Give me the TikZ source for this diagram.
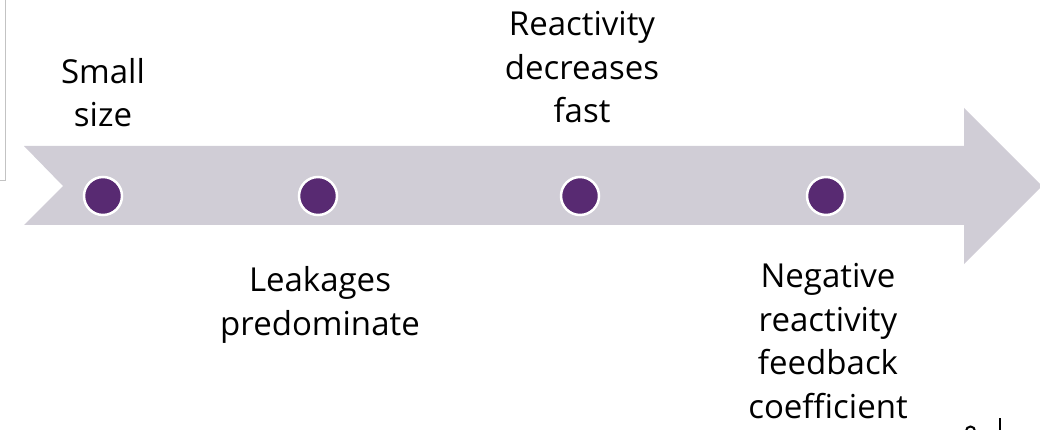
\documentclass[tikz,border=0pt]{standalone}
\usepackage{fontspec}
\setmainfont{Open Sans}
\definecolor{bandgray}{RGB}{208,205,214}
\definecolor{dotpurple}{RGB}{88,42,114}
\definecolor{framegray}{RGB}{195,195,195}

\begin{document}
\begin{tikzpicture}[x=1pt,y=-1pt,
	stagedot/.style={circle, fill=dotpurple, draw=white, line width=2.5pt, minimum size=38pt, inner sep=0pt},
	stagelabel/.style={align=center, inner sep=0pt, anchor=base, font=\fontsize{33}{43.5}\selectfont}]
	\useasboundingbox (0,0) rectangle (1040,430);
	\clip (0,0) rectangle (1040,430);
	% frame corner
	\draw[framegray, line width=0.8pt] (0,180) -- (5.5,180) -- (5.5,0);
	% timeline arrow
	\fill[bandgray] (24,146) -- (964,146) -- (964,108) -- (1042,186)
		-- (964,264) -- (964,225) -- (24,225) -- (63,186) -- cycle;
	% stages
	\node[stagedot] (dot1) at (103,196) {};
	\node[stagedot] (dot2) at (318,196) {};
	\node[stagedot] (dot3) at (580,196) {};
	\node[stagedot] (dot4) at (826,196) {};
	% labels, placed at the baseline of their last line
	\node[stagelabel] (size) at (103,127) {Small\\size};
	\node[stagelabel] (react) at (582,123) {Reactivity\\decreases\\fast};
	\node[stagelabel] (leak) at (320,335) {Leakages\\predominate};
	\node[stagelabel] (feed) at (828,418) {Negative\\reactivity\\feedback\\coefficient};
	% page number remains
	\draw[line width=2pt] (966,431) arc (180:360:4.5);
	\draw[line width=2pt] (1000,418) -- (1000,431);
\end{tikzpicture}
\end{document}
